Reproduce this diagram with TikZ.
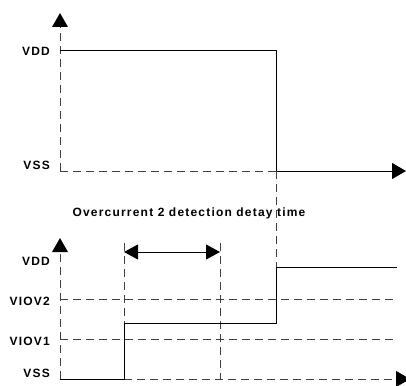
\documentclass[tikz,border=0pt]{standalone}
\usepackage{fontspec}
\setmainfont{Liberation Sans}
\newfontfamily\lblfont[LetterSpace=10]{Liberation Sans}
\usetikzlibrary{arrows.meta}

\tikzset{
    sig/.style={line width=1pt, line cap=butt},
    guide/.style={line width=0.75pt, black!75, dash pattern=on 8pt off 5pt},
    lvl/.style={font=\lblfont\bfseries\fontsize{12}{14}\selectfont, anchor=east, inner sep=0pt},
    bigtip/.style={-{Triangle[width=16pt,length=14pt,black]}},
    dbltip/.style={{Triangle[width=15pt,length=14pt]}-{Triangle[width=15pt,length=14pt]}}
}

\begin{document}
\begin{tikzpicture}[x=1pt,y=-1pt]
    \useasboundingbox (0,0) rectangle (406,385);

    % upper panel
    \coordinate (axA) at (60,171);
    \coordinate (hiA) at (60,51);
    \coordinate (fallTop) at (276,51);
    \coordinate (fallBot) at (276,171);
    \coordinate (endA) at (406,171);

    \node[lvl] (vddA) at (50,51) {VDD};
    \node[lvl] (vssA) at (50,165) {VSS};

    \draw[guide] (axA) -- (60,27);
    \fill (60,13) -- (52,27) -- (68,27) -- cycle;
    \draw[guide] (axA) -- (fallBot);
    \draw[sig] (hiA) -- (fallTop) -- (fallBot);
    \draw[sig, bigtip] (fallBot) -- (endA);

    % lower panel
    \coordinate (axB) at (60,379);
    \coordinate (riseA) at (124,379);
    \coordinate (midA) at (124,323);
    \coordinate (midB) at (276,323);
    \coordinate (hiB) at (276,267);
    \coordinate (endB) at (397,267);

    \node[lvl] (vddB) at (50,261) {VDD};
    \node[lvl] (viov2) at (50,301) {VIOV2};
    \node[lvl] (viov1) at (50,341) {VIOV1};
    \node[lvl] (vssB) at (50,373) {VSS};

    \draw[guide] (axB) -- (60,252);
    \fill (60,238) -- (52,252) -- (68,252) -- cycle;
    \draw[guide] (60,299) -- (397,299);
    \draw[guide] (60,339) -- (397,339);
    \draw[guide, bigtip] (riseA) -- (410,379);

    \draw[guide] (124,243) -- (riseA);
    \draw[guide] (220,243) -- (220,379);

    \node[font=\lblfont\bfseries\fontsize{12}{14}\selectfont, inner sep=0pt] (delay) at (189,213)
        {Overcurrent 2 detection detay time};
    \draw[guide] (fallBot) -- (hiB);

    \draw[sig, dbltip] (124,252) -- (220,252);
    \draw[sig] (axB) -- (riseA) -- (midA) -- (midB) -- (hiB) -- (endB);
\end{tikzpicture}
\end{document}
